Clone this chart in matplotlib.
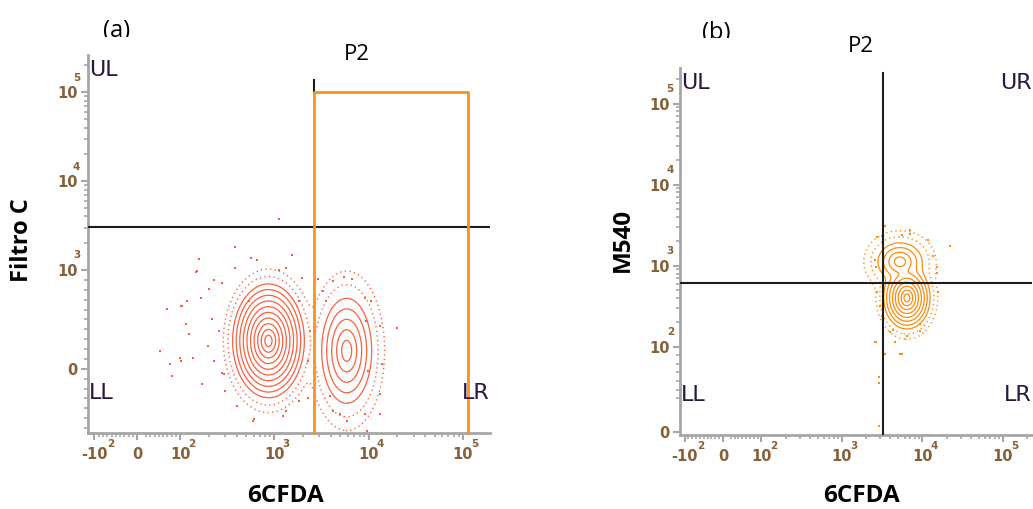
import numpy as np
import matplotlib
matplotlib.use("Agg")
import matplotlib.pyplot as plt
from matplotlib.transforms import blended_transform_factory, Bbox, TransformedBbox

plt.rcParams['font.family'] = ['DejaVu Sans']

# ---------------- data ----------------
# Panel (a): Filtro C vs 6CFDA, two populations
a_center_x = [863, 5840]
a_center_y = [283, 182]
a_sigma_x = [0.038, 0.053]     # spread in decades
a_sigma_y = [0.064, 0.118]
a_rings = [10, 5]
a_quadrant_y = 3060
a_gate_x = [2600, 1.13e5]
a_gate_top = 1.0e5
a_dots_x = [1130, 385, 159, 569, 660, 1520, 385, 148, 1130, 1340, 230, 280, 1940,
            204, 167, 118, 105, 115, 100, 125, 135, 170, 294, 585, 1340, 2250,
            13100, 19800, 13800, 13100, 13100, 6730, 5410, 4140, 2870, 9050,
            10500, 3240, 9050, 4920, 5840, 4140, 9550, 600, 1220, 52, 75, 80, 68,
            103, 152, 103, 219, 260, 195, 230, 275, 302, 398, 540, 1840, 2360,
            2250, 1840, 3490, 9300, 9800, 3850]
a_dots_y = [3770, 1820, 1330, 1370, 1300, 1480, 1050, 980, 1010, 1050, 899, 869, 919,
            808, 717, 687, 636, 455, 111, 354, 111, -152, -50, -525, -424, -293,
            434, 414, 50, -253, -455, 909, 929, 889, 909, 717,
            687, 788, -455, -455, -525, -424, -626, -505, -475, 182, 50, -70, 606,
            636, 990, 80, 505, 384, 232, 81, -40, -222, -374, 687, 687, 384,
            81, -323, 687, 485, -20, -273]

# Panel (b): M540 vs 6CFDA inside gate P2
b_center_x = [5250, 6420]
b_center_y = [1120, 400]
b_sigma_x = [0.068, 0.036]
b_sigma_y = [0.058, 0.048]
b_rings = [4, 8]
b_quadrant_x = 3230
b_quadrant_y = 618
b_dots_x = [3420, 2720, 3130, 5560, 7000, 7000, 11700, 21900, 13500, 15100, 15100,
            15600, 2570, 2640, 2720, 2960, 3130, 2570, 3420, 5250, 5560, 4550, 3940,
            4300, 9300, 9300, 6420, 2880, 2880, 2880, 2640]
b_dots_y = [3100, 2270, 2340, 2400, 2770, 2480, 2090, 1760, 1330, 970, 820,
            480, 1190, 970, 480, 315, 236, 113, 91, 91, 91, 113, 150,
            163, 158, 188, 134, 65, 58, 7, 113]

x_major = [-100, 0, 100, 1e3, 1e4, 1e5]
x_major_base = ['-10', '0', '10', '10', '10', '10']
x_major_exp = ['2', '', '2', '3', '4', '5']
a_y_major = [0, 1e3, 1e4, 1e5]
a_y_major_base = ['0', '10', '10', '10']
a_y_major_exp = ['', '3', '4', '5']
b_y_major = [0, 100, 1e3, 1e4, 1e5]
b_y_major_base = ['0', '10', '10', '10', '10']
b_y_major_exp = ['', '2', '3', '4', '5']

# ---------------- style ----------------
W, H, DPI = 1033, 509, 100
AXIS_GREY = '#a6a6a6'
TICK_TEXT = '#86603a'
QUAD_TEXT = '#2a1840'
RED = '#f9603f'
ORANGE = '#fb8c0c'
GATE = '#f7941d'

fig = plt.figure(figsize=(W / DPI, H / DPI), dpi=DPI)


def px_rect(l, t, r, b):
    return [l / W, 1 - b / H, (r - l) / W, (b - t) / H]


def log_minors(top):
    m = []
    for e in range(2, 6):
        for k in range(2, 10):
            v = k * 10 ** e
            if v <= top:
                m.append(v)
    return m


def style_axes(ax):
    for s in ('top', 'right'):
        ax.spines[s].set_visible(False)
    for s in ('left', 'bottom'):
        ax.spines[s].set_color(AXIS_GREY)
        ax.spines[s].set_linewidth(2)
    ax.tick_params(which='major', length=5, width=1.5, color=AXIS_GREY,
                   labelcolor=TICK_TEXT, labelsize=10.5)
    ax.tick_params(which='minor', length=3.2, width=1.2, color=AXIS_GREY)
    ax.tick_params(axis='x', which='major', pad=5)
    ax.tick_params(axis='y', which='major', pad=2.5)
    for lab in ax.get_xticklabels() + ax.get_yticklabels():
        lab.set_fontweight('bold')


def exponents(ax, axis, vals, exps, dxy):
    if axis == 'x':
        tr = blended_transform_factory(ax.transData, ax.transAxes)
    else:
        tr = blended_transform_factory(ax.transAxes, ax.transData)
    for v, e in zip(vals, exps):
        if not e:
            continue
        xy = (v, 0) if axis == 'x' else (0, v)
        dx, dy = dxy(v)
        ax.annotate(e, xy=xy, xycoords=tr, xytext=(dx, dy), textcoords='offset points',
                    ha='center', va='center', fontsize=7.5, fontweight='bold',
                    color=TICK_TEXT, annotation_clip=False)


def density(ax, lin_x, lin_y, cx, cy, sx, sy, rings, color):
    tx = ax.xaxis.get_transform()
    ty = ax.yaxis.get_transform()
    xl = np.array(ax.get_xlim(), float)
    yl = np.array(ax.get_ylim(), float)
    u = np.linspace(*(tx.transform(xl) / lin_x), 900)
    v = np.linspace(*(ty.transform(yl) / lin_y), 900)
    U, V = np.meshgrid(u, v)
    X = tx.inverted().transform(U.ravel() * lin_x).reshape(U.shape)
    Y = ty.inverted().transform(V.ravel() * lin_y).reshape(V.shape)
    uc = tx.transform(np.array(cx, float)) / lin_x
    vc = ty.transform(np.array(cy, float)) / lin_y
    D = np.zeros_like(U)
    for ui, vi, sxi, syi, r in zip(uc, vc, sx, sy, rings):
        D += np.exp(r - np.hypot((U - ui) / sxi, (V - vi) / syi))
    ax.contour(X, Y, D, levels=np.exp(np.arange(0, max(rings))), colors=color,
               linewidths=0.9)
    ax.contour(X, Y, D, levels=[np.exp(-2.6), np.exp(-1.3)], colors=color,
               linewidths=1.1, linestyles=[(0, (0.8, 2.2))])


# ---------------- panel (a) ----------------
axA = fig.add_axes(px_rect(88, 55, 490, 433))
axA.set_xscale('symlog', linthresh=100, linscale=0.41)
axA.set_yscale('symlog', linthresh=1000, linscale=1.0)
axA.set_xlim(-117, 1.94e5)
axA.set_ylim(-650, 2.62e5)

density(axA, 100, 1000, a_center_x, a_center_y, a_sigma_x, a_sigma_y, a_rings, RED)
axA.scatter(a_dots_x, a_dots_y, s=2.2, marker='s', color=RED, linewidths=0, zorder=3)

axA.axhline(a_quadrant_y, color='#1c1c1c', lw=1.5, zorder=4)
yb = axA.get_ylim()[0]
axA.plot([a_gate_x[0], a_gate_x[0], a_gate_x[1], a_gate_x[1]],
         [yb, a_gate_top, a_gate_top, yb], color=GATE, lw=2, zorder=5, clip_on=False)
axA.plot([a_gate_x[0], a_gate_x[0]], [a_gate_top, 1.37e5], color='#1c1c1c', lw=1.5,
         zorder=4)

axA.set_xticks(x_major)
axA.set_xticklabels(x_major_base)
axA.set_xticks([-90, -80, -70, -60, -50, -40, -30, -20, -10,
                20, 30, 40, 50, 60, 70, 80, 90] + log_minors(1.9e5), minor=True)
axA.set_yticks(a_y_major)
axA.set_yticklabels(a_y_major_base)
axA.set_yticks([-600, -500, -400, -300, -200, -100, 100, 200, 300, 400, 500, 600,
                700, 800, 900] + [v for v in log_minors(2.6e5) if v > 1000], minor=True)
axA.xaxis.set_minor_formatter(plt.NullFormatter())
axA.yaxis.set_minor_formatter(plt.NullFormatter())
style_axes(axA)
exponents(axA, 'x', x_major, x_major_exp,
          lambda v: (12 if v < 0 else 8.5, -8))
exponents(axA, 'y', a_y_major, a_y_major_exp, lambda v: (-8.3, 10.5))

for txt, xf, yf, ha in [('UL', 0.003, 0.987, 'left'), ('LL', 0.003, 0.132, 'left'),
                        ('LR', 1.0, 0.132, 'right')]:
    axA.text(xf, yf, txt, transform=axA.transAxes, ha=ha, va='top', fontsize=16,
             color=QUAD_TEXT, zorder=6)

# ---------------- panel (b) ----------------
axB = fig.add_axes(px_rect(680, 68, 1032, 435))
axB.set_xscale('symlog', linthresh=100, linscale=0.43)
axB.set_yscale('symlog', linthresh=100, linscale=0.952)
axB.set_xlim(-114, 2.3e5)
axB.set_ylim(-3, 2.75e5)

density(axB, 100, 100, b_center_x, b_center_y, b_sigma_x, b_sigma_y, b_rings, ORANGE)
axB.scatter(b_dots_x, b_dots_y, s=2.2, marker='s', color=ORANGE, linewidths=0, zorder=3)

axB.axhline(b_quadrant_y, color='#1c1c1c', lw=1.5, zorder=4)
axB.plot([b_quadrant_x, b_quadrant_x], [axB.get_ylim()[0], 2.4e5], color='#1c1c1c',
         lw=1.5, zorder=4)

axB.set_xticks(x_major)
axB.set_xticklabels(x_major_base)
axB.set_xticks([-90, -80, -70, -60, -50, -40, -30, -20, -10,
                20, 30, 40, 50, 60, 70, 80, 90] + log_minors(2.2e5), minor=True)
axB.set_yticks(b_y_major)
axB.set_yticklabels(b_y_major_base)
axB.set_yticks([40, 50, 60, 70, 80, 90] + log_minors(2.7e5), minor=True)
axB.xaxis.set_minor_formatter(plt.NullFormatter())
axB.yaxis.set_minor_formatter(plt.NullFormatter())
style_axes(axB)
exponents(axB, 'x', x_major, x_major_exp,
          lambda v: (12 if v < 0 else 8.5, -8))
exponents(axB, 'y', b_y_major, b_y_major_exp, lambda v: (-7, 10.5))

for txt, xf, yf, ha in [('UL', 0.003, 0.986, 'left'), ('UR', 1.0, 0.986, 'right'),
                        ('LL', 0.003, 0.136, 'left'), ('LR', 1.0, 0.136, 'right')]:
    axB.text(xf, yf, txt, transform=axB.transAxes, ha=ha, va='top', fontsize=16,
             color=QUAD_TEXT, zorder=6)

# ---------------- figure text ----------------
def ftext(x, y, s, **kw):
    return fig.text(x / W, 1 - y / H, s, **kw)


ftext(22, 240, 'Filtro C', rotation=90, ha='center', va='center', fontsize=17,
      fontweight='bold', family='Open Sans')
ftext(285, 496, '6CFDA', ha='center', va='center', fontsize=17.5, fontweight='bold',
      family='Open Sans')
ftext(623, 240, 'M540', rotation=90, ha='center', va='center', fontsize=17.5,
      fontweight='bold', family='Open Sans')
ftext(861, 496, '6CFDA', ha='center', va='center', fontsize=17.5, fontweight='bold',
      family='Open Sans')
ftext(357, 55, 'P2', ha='center', va='center', fontsize=16, family='Open Sans')
ftext(861, 47, 'P2', ha='center', va='center', fontsize=16, family='Open Sans')

# panel letters, trimmed along their lower edge
for x, y, s, cut in [(117, 19, '(a)', 37), (716, 21, '(b)', 38)]:
    t = ftext(x, y, s, ha='center', va='top', fontsize=17, family='Open Sans')
    t.set_clip_box(TransformedBbox(Bbox([[0, 1 - cut / H], [1, 1]]), fig.transFigure))
    t.set_clip_on(True)

fig.savefig('out.png', dpi=DPI)
